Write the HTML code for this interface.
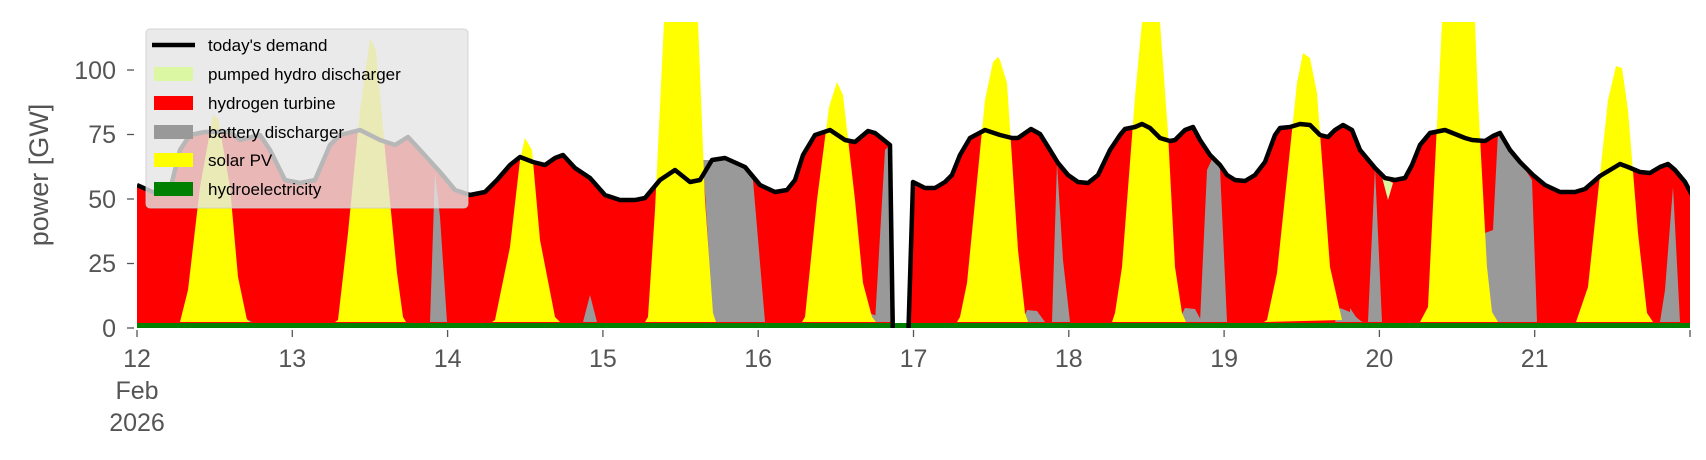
<!DOCTYPE html>
<html><head><meta charset="utf-8"><style>
body{margin:0;background:#fff;}
svg{display:block;font-family:"Liberation Sans","DejaVu Sans",sans-serif;}
</style></head><body>
<svg width="1706" height="460" viewBox="0 0 1706 460" xmlns="http://www.w3.org/2000/svg">
<defs><clipPath id="c"><rect x="137" y="20" width="1553" height="308"/></clipPath></defs>
<g clip-path="url(#c)">
<!-- hydrogen turbine (red) -->
<path fill="#ff0000" d="M137,328 L137,185 L155,193 L170,190 L180,150 L190,135 L205,132 L230,132 L240,140 L260,135 L270,150 L285,180 L300,183 L315,180 L330,145 L340,135 L360,130 L380,140 L395,145 L408,137 L420,150 L440,172 L455,190 L470,195 L485,192 L497,180 L510,165 L520,157 L533,162 L545,165 L555,158 L563,155 L575,168 L590,178 L605,195 L620,200 L635,200 L645,198 L660,180 L675,170 L690,182 L700,180 L712,160 L725,158 L745,167 L760,185 L775,192 L787,190 L795,180 L803,155 L815,135 L830,130 L845,140 L855,142 L868,131 L875,133 L890,145 L893,328 Z"/>
<path fill="#ff0000" d="M910,328 L913,182 L925,188 L935,188 L945,182 L952,175 L960,155 L970,138 L985,130 L1000,135 L1012,138 L1018,138 L1031,129 L1040,134 L1050,150 L1058,163 L1068,175 L1078,182 L1088,183 L1098,175 L1110,150 L1120,135 L1125,129 L1135,127 L1142,124 L1150,128 L1160,138 L1170,141 L1175,140 L1185,130 L1193,127 L1200,140 L1210,155 L1220,165 L1227,175 L1235,180 L1245,181 L1255,175 L1265,162 L1275,135 L1280,128 L1290,127 L1300,124 L1310,125 L1320,135 L1328,137 L1335,130 L1343,125 L1352,130 L1360,150 L1375,168 L1385,178 L1395,180 L1405,178 L1412,165 L1420,145 L1430,133 L1445,130 L1455,134 L1465,138 L1472,140 L1485,141 L1493,136 L1500,133 L1510,150 L1520,162 L1533,175 L1545,185 L1560,192 L1575,192 L1585,189 L1592,183 L1600,176 L1610,170 L1620,164 L1628,167 L1640,172 L1650,173 L1660,167 L1668,164 L1675,170 L1685,182 L1692,195 L1692,328 Z"/>
<!-- pumped hydro -->
<path fill="#dbf7a3" d="M1382,177 L1393,183 L1388,200 Z"/>
<!-- battery (grey) -->
<g fill="#999999">
<path d="M430,322 L435,173 L440,217 L447,322 Z"/>
<path d="M583,322 L590,295 L597,322 Z"/>
<path d="M703,160 L712,160 L725,158 L745,167 L753,180 L765,322 L713,322 Z"/>
<path d="M875,322 L885,150 L890,145 L895,322 Z"/>
<path d="M860,322 L868,313 L878,316 L885,322 Z"/>
<path d="M1052,322 L1057,163 L1063,260 L1070,322 Z"/>
<path d="M1022,322 L1027,310 L1037,311 L1045,322 Z"/>
<path d="M1200,322 L1207,170 L1213,157 L1220,168 L1227,322 Z"/>
<path d="M1178,322 L1185,308 L1195,309 L1202,322 Z"/>
<path d="M1335,322 L1340,308 L1350,312 L1362,322 Z"/>
<path d="M1368,322 L1375,168 L1382,322 Z"/>
<path d="M1350,308 L1358,320 L1363,322 L1350,322 Z"/>
<path d="M1490,322 L1485,233 L1493,230 L1498,132 L1510,150 L1520,162 L1532,180 L1537,322 Z"/>
<path d="M1660,322 L1665,290 L1673,187 L1680,322 Z"/>
<path d="M232,322 L240,315 L252,322 Z"/>
</g>
<!-- solar (yellow) -->
<g fill="#ffff00">
<path d="M180,322 L188,290 L200,187 L213,115 L218,118 L230,187 L238,277 L247,320 L250,322 Z"/>
<path d="M335,322 L338,320 L348,233 L360,110 L370,38 L376,50 L385,150 L397,273 L403,317 L406,322 Z"/>
<path d="M492,322 L495,320 L510,247 L520,160 L525,138 L532,150 L540,240 L555,317 L560,322 Z"/>
<path d="M645,322 L648,317 L655,210 L664,22 L698,22 L705,200 L713,313 L716,322 Z"/>
<path d="M802,322 L805,317 L817,200 L829,107 L837,82 L843,95 L855,200 L863,283 L872,317 L876,322 Z"/>
<path d="M957,322 L960,317 L967,283 L985,100 L993,62 L998,57 L1000,60 L1007,83 L1018,250 L1025,313 L1028,322 Z"/>
<path d="M1112,322 L1115,313 L1122,267 L1135,97 L1142,22 L1160,22 L1168,133 L1175,267 L1182,313 L1186,322 Z"/>
<path d="M1264,322 L1267,320 L1277,273 L1297,83 L1303,53 L1310,58 L1317,93 L1330,267 L1342,320 Z"/>
<path d="M1420,322 L1428,307 L1442,22 L1475,22 L1478,100 L1487,267 L1492,312 L1498,322 Z"/>
<path d="M1576,322 L1588,287 L1608,100 L1616,66 L1622,68 L1628,110 L1638,233 L1647,313 L1653,322 Z"/>
</g>
<!-- hydro -->
<rect x="137" y="323" width="1553" height="5" fill="#008000"/>
<!-- demand -->
<polyline fill="none" stroke="#000" stroke-width="4.5" stroke-linejoin="round" points="137,185 155,193 170,190 180,150 190,135 205,132 230,132 240,140 260,135 270,150 285,180 300,183 315,180 330,145 340,135 360,130 380,140 395,145 408,137 420,150 440,172 455,190 470,195 485,192 497,180 510,165 520,157 533,162 545,165 555,158 563,155 575,168 590,178 605,195 620,200 635,200 645,198 660,180 675,170 690,182 700,180 712,160 725,158 745,167 760,185 775,192 787,190 795,180 803,155 815,135 830,130 845,140 855,142 868,131 875,133 890,145 893,345 908,345 913,182 925,188 935,188 945,182 952,175 960,155 970,138 985,130 1000,135 1012,138 1018,138 1031,129 1040,134 1050,150 1058,163 1068,175 1078,182 1088,183 1098,175 1110,150 1120,135 1125,129 1135,127 1142,124 1150,128 1160,138 1170,141 1175,140 1185,130 1193,127 1200,140 1210,155 1220,165 1227,175 1235,180 1245,181 1255,175 1265,162 1275,135 1280,128 1290,127 1300,124 1310,125 1320,135 1328,137 1335,130 1343,125 1352,130 1360,150 1375,168 1385,178 1395,180 1405,178 1412,165 1420,145 1430,133 1445,130 1455,134 1465,138 1472,140 1485,141 1493,136 1500,133 1510,150 1520,162 1533,175 1545,185 1560,192 1575,192 1585,189 1592,183 1600,176 1610,170 1620,164 1628,167 1640,172 1650,173 1660,167 1668,164 1675,170 1685,182 1692,195"/>
</g>
<!-- legend -->
<rect x="146" y="29" width="322" height="179" rx="4" fill="#e5e5e5" fill-opacity="0.8" stroke="#cccccc" stroke-opacity="0.8"/>
<g font-size="17" fill="#000">
<line x1="152" y1="45" x2="195" y2="45" stroke="#000" stroke-width="4.5"/>
<text x="208" y="51">today's demand</text>
<rect x="154" y="67" width="39" height="14" fill="#dbf7a3"/><text x="208" y="80">pumped hydro discharger</text>
<rect x="154" y="96" width="39" height="14" fill="#ff0000"/><text x="208" y="109">hydrogen turbine</text>
<rect x="154" y="125" width="39" height="14" fill="#999999"/><text x="208" y="138">battery discharger</text>
<rect x="154" y="153" width="39" height="14" fill="#ffff00"/><text x="208" y="166">solar PV</text>
<rect x="154" y="182" width="39" height="14" fill="#008000"/><text x="208" y="195">hydroelectricity</text>
</g>
<!-- axes -->
<g stroke="#555" stroke-width="1.3">
<line x1="127" y1="328" x2="134" y2="328"/><line x1="127" y1="263.5" x2="134" y2="263.5"/><line x1="127" y1="199" x2="134" y2="199"/><line x1="127" y1="134.5" x2="134" y2="134.5"/><line x1="127" y1="70" x2="134" y2="70"/>
<line x1="137" y1="330" x2="137" y2="337"/><line x1="292.3" y1="330" x2="292.3" y2="337"/><line x1="447.6" y1="330" x2="447.6" y2="337"/><line x1="602.9" y1="330" x2="602.9" y2="337"/><line x1="758.2" y1="330" x2="758.2" y2="337"/><line x1="913.5" y1="330" x2="913.5" y2="337"/><line x1="1068.8" y1="330" x2="1068.8" y2="337"/><line x1="1224.1" y1="330" x2="1224.1" y2="337"/><line x1="1379.4" y1="330" x2="1379.4" y2="337"/><line x1="1534.7" y1="330" x2="1534.7" y2="337"/><line x1="1690" y1="330" x2="1690" y2="337"/>
</g>
<g font-size="25" fill="#555" text-anchor="end">
<text x="116" y="337">0</text><text x="116" y="272">25</text><text x="116" y="208">50</text><text x="116" y="143">75</text><text x="116" y="79">100</text>
</g>
<g font-size="25" fill="#555" text-anchor="middle">
<text x="137" y="367">12</text><text x="137" y="399">Feb</text><text x="137" y="431">2026</text>
<text x="292.3" y="367">13</text><text x="447.6" y="367">14</text><text x="602.9" y="367">15</text><text x="758.2" y="367">16</text><text x="913.5" y="367">17</text><text x="1068.8" y="367">18</text><text x="1224.1" y="367">19</text><text x="1379.4" y="367">20</text><text x="1534.7" y="367">21</text>
</g>
<text transform="translate(48,175) rotate(-90)" font-size="27" fill="#555" text-anchor="middle">power [GW]</text>
</svg>
</body></html>
